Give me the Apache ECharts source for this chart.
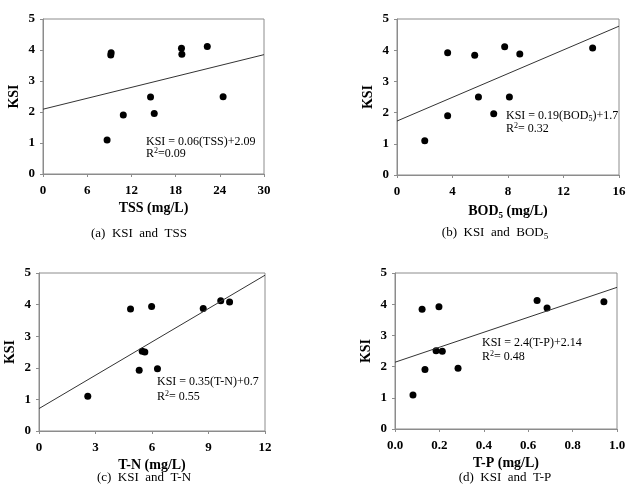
<!DOCTYPE html>
<html><head><meta charset="utf-8">
<script src="https://cdn.jsdelivr.net/npm/echarts@6/dist/echarts.min.js"></script>
<style>html,body{margin:0;padding:0;background:#fff}#c{width:631px;height:494px}</style>
</head><body><div id="c"></div>
<script>
// ---- data ----
const tss  = [8.7, 9.2, 9.25, 10.9, 14.6, 15.1, 18.8, 18.85, 22.3, 24.45];
const ksiA = [1.10, 3.84, 3.91, 1.90, 2.48, 1.95, 4.06, 3.86, 4.11, 2.49];
const bod  = [2.0, 3.65, 3.65, 5.6, 5.87, 6.97, 7.76, 8.1, 8.85, 14.1];
const ksiB = [1.10, 3.92, 1.90, 3.84, 2.50, 1.96, 4.11, 2.50, 3.88, 4.07];
const tn   = [2.59, 4.86, 5.32, 5.48, 5.62, 5.98, 6.29, 8.72, 9.65, 10.12];
const ksiC = [1.10, 3.86, 1.92, 2.52, 2.50, 3.94, 1.97, 3.88, 4.12, 4.08];
const tp   = [0.081, 0.122, 0.135, 0.185, 0.198, 0.213, 0.284, 0.64, 0.685, 0.941];
const ksiD = [1.09, 3.84, 1.91, 2.51, 3.92, 2.49, 1.95, 4.12, 3.88, 4.08];
const trendA = [[0, 2.09], [30, 3.85]];
const trendB = [[0, 1.73], [16, 4.77]];
const trendC = [[0, 0.71], [12, 4.93]];
const trendD = [[0, 2.14], [1, 4.54]];
const xMax = [30, 16, 12, 1];
const xStep = [6, 4, 3, 0.2];
const yMax = 5, yStep = 1;
const eqMain = ['KSI = 0.06(TSS)+2.09', 'KSI = 0.19(BOD', 'KSI = 0.35(T-N)+0.7', 'KSI = 2.4(T-P)+2.14'];
const r2Text = ['=0.09', '= 0.32', '= 0.55', '= 0.48'];

const SERIF = '"Liberation Serif", "Times New Roman", serif';
const GRAY = '#8c8c8c';
const grids = [
  {left: 43, top: 19, width: 221, height: 155},
  {left: 397, top: 19, width: 222, height: 156},
  {left: 39, top: 273, width: 226, height: 158},
  {left: 395, top: 273, width: 222, height: 156}
];
const xs = [tss, bod, tn, tp], ys = [ksiA, ksiB, ksiC, ksiD], trends = [trendA, trendB, trendC, trendD];
const xNames = ['TSS (mg/L)', '{b|BOD}{s|5}{b| (mg/L)}', 'T-N (mg/L)', 'T-P (mg/L)'];

const nameRich = {
  b: {fontFamily: SERIF, fontWeight: 'bold', fontSize: 14, color: '#000', lineHeight: 18},
  s: {fontFamily: SERIF, fontWeight: 'bold', fontSize: 9, color: '#000', lineHeight: 9, verticalAlign: 'bottom'}
};

const option = {
  animation: false,
  backgroundColor: '#fff',
  grid: grids.map(g => Object.assign({show: true, borderColor: GRAY, borderWidth: 1, backgroundColor: 'transparent'}, g)),
  xAxis: grids.map((g, i) => ({
    gridIndex: i, type: 'value', min: 0, max: xMax[i], interval: xStep[i],
    name: xNames[i], nameLocation: 'middle', nameGap: 27,
    nameTextStyle: {fontFamily: SERIF, fontWeight: 'bold', fontSize: 14, color: '#000', rich: nameRich},
    axisLine: {show: true, lineStyle: {color: GRAY, width: 1}},
    axisTick: {show: true, length: 3, lineStyle: {color: GRAY}},
    splitLine: {show: false},
    axisLabel: {fontFamily: SERIF, fontWeight: 'bold', fontSize: 13, color: '#000', margin: 10,
      formatter: v => i === 3 ? v.toFixed(1) : String(v)}
  })),
  yAxis: grids.map((g, i) => ({
    gridIndex: i, type: 'value', min: 0, max: yMax, interval: yStep,
    name: 'KSI', nameLocation: 'middle', nameGap: 22, nameRotate: 90,
    nameTextStyle: {fontFamily: SERIF, fontWeight: 'bold', fontSize: 14, color: '#000'},
    axisLine: {show: true, lineStyle: {color: GRAY, width: 1}},
    axisTick: {show: true, length: 3, lineStyle: {color: GRAY}},
    splitLine: {show: false},
    axisLabel: {fontFamily: SERIF, fontWeight: 'bold', fontSize: 13, color: '#000', margin: 8}
  })),
  series: [].concat(...grids.map((g, i) => [
    {type: 'line', xAxisIndex: i, yAxisIndex: i, data: trends[i], symbol: 'none',
      lineStyle: {color: '#333', width: 1}, silent: true},
    {type: 'scatter', xAxisIndex: i, yAxisIndex: i, symbol: 'circle', symbolSize: 7,
      itemStyle: {color: '#000', opacity: 1}, data: xs[i].map((x, k) => [x, ys[i][k]])}
  ])),
  graphic: []
};

const eqRich = {
  n: {fontFamily: SERIF, fontSize: 12, color: '#3a3a3a', lineHeight: 14},
  sup: {fontFamily: SERIF, fontSize: 8, color: '#3a3a3a', lineHeight: 8, verticalAlign: 'top'},
  sub: {fontFamily: SERIF, fontSize: 8, color: '#3a3a3a', lineHeight: 8, verticalAlign: 'bottom'}
};
const eqPos = [[146, 143, 154], [506, 117, 129], [157, 383, 397], [482, 344, 357]];
eqPos.forEach((p, i) => {
  const first = i === 1 ? '{n|' + eqMain[1] + '}{sub|5}{n|)+1.7}' : '{n|' + eqMain[i] + '}';
  option.graphic.push({type: 'text', left: p[0], top: p[1] - 7, style: {text: first, rich: eqRich}});
  option.graphic.push({type: 'text', left: p[0], top: p[2] - 7, style: {text: '{n|R}{sup|2}{n|' + r2Text[i] + '}', rich: eqRich}});
});

const capRich = {
  n: {fontFamily: SERIF, fontSize: 13, color: '#111', lineHeight: 16},
  sub: {fontFamily: SERIF, fontSize: 9, color: '#111', lineHeight: 9, verticalAlign: 'bottom'}
};
const captions = ['{n|(a)  KSI  and  TSS}', '{n|(b)  KSI  and  BOD}{sub|5}', '{n|(c)  KSI  and  T-N}', '{n|(d)  KSI  and  T-P}'];
const capPos = [[139, 234], [495, 233], [144, 478], [505, 478]];
capPos.forEach((p, i) => {
  option.graphic.push({type: 'text', x: p[0], y: p[1],
    style: {text: captions[i], rich: capRich, align: 'center', verticalAlign: 'middle'}});
});

const chart = echarts.init(document.getElementById('c'), null, {renderer: 'canvas'});
chart.setOption(option);
</script>
</body></html>
